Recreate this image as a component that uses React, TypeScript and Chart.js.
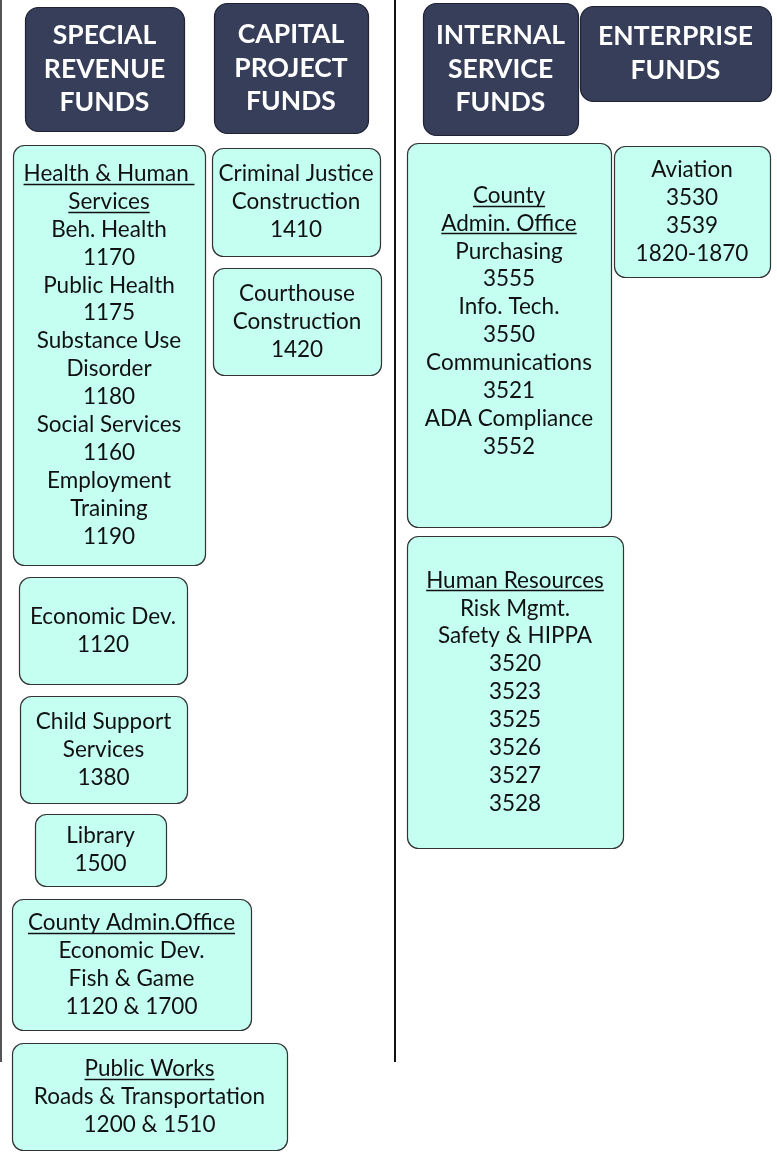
import React, { useEffect, useRef } from "react";
import { Chart, registerables } from "chart.js";

Chart.register(...registerables);

// Header boxes (fund types)
const headerLabels: string[][] = [
  ["SPECIAL", "REVENUE", "FUNDS"],
  ["CAPITAL", "PROJECT", "FUNDS"],
  ["INTERNAL", "SERVICE", "FUNDS"],
  ["ENTERPRISE", "FUNDS"],
];
const headerX0 = [25, 214, 423, 580];
const headerX1 = [184, 368, 578, 771];
const headerY0 = [7, 3, 3, 6];
const headerY1 = [131, 133, 135, 101];

// Fund boxes ("_" prefix = underlined line)
const fundLabels: string[][] = [
  ["_Health & Human ", "_Services", "Beh. Health", "1170", "Public Health", "1175", "Substance Use", "Disorder", "1180", "Social Services", "1160", "Employment", "Training", "1190"],
  ["Criminal Justice", "Construction", "1410"],
  ["Courthouse", "Construction", "1420"],
  ["_County", "_Admin. Office", "Purchasing", "3555", "Info. Tech.", "3550", "Communications", "3521", "ADA Compliance", "3552", ""],
  ["Aviation", "3530", "3539", "1820-1870"],
  ["Economic Dev.", "1120"],
  ["Child Support", "Services", "1380"],
  ["Library", "1500"],
  ["_County Admin.Office", "Economic Dev.", "Fish & Game", "1120 & 1700"],
  ["_Public Works", "Roads & Transportation", "1200 & 1510"],
  ["_Human Resources", "Risk Mgmt.", "Safety & HIPPA", "3520", "3523", "3525", "3526", "3527", "3528"],
];
const fundX0 = [13, 212, 213, 407, 614, 19, 20, 35, 12, 12, 407];
const fundX1 = [205, 380, 381, 611, 770, 187, 187, 166, 251, 287, 623];
const fundY0 = [145, 148, 268, 143, 146, 577, 696, 814, 899, 1043, 536];
const fundY1 = [565, 256, 375, 527, 277, 684, 803, 886, 1030, 1150, 848];

// Divider lines
const dividerX = [1, 395];
const dividerTop = [0, 0];
const dividerBottom = [1062, 1062];

const FONT = "Lato, 'Open Sans', sans-serif";

function roundRect(ctx: CanvasRenderingContext2D, x: number, y: number, w: number, h: number, r: number) {
  ctx.beginPath();
  ctx.moveTo(x + r, y);
  ctx.lineTo(x + w - r, y);
  ctx.arcTo(x + w, y, x + w, y + r, r);
  ctx.lineTo(x + w, y + h - r);
  ctx.arcTo(x + w, y + h, x + w - r, y + h, r);
  ctx.lineTo(x + r, y + h);
  ctx.arcTo(x, y + h, x, y + h - r, r);
  ctx.lineTo(x, y + r);
  ctx.arcTo(x, y, x + r, y, r);
  ctx.closePath();
}

const boxesPlugin = {
  id: "boxes",
  afterDatasetsDraw(chart: any) {
    const ctx: CanvasRenderingContext2D = chart.ctx;
    const xs = chart.scales.x;
    const ys = chart.scales.y;
    const drawBox = (
      lines: string[], x0: number, x1: number, y0: number, y1: number,
      fill: string, stroke: string, color: string, font: string, lh: number, r: number
    ) => {
      const px0 = xs.getPixelForValue(x0);
      const px1 = xs.getPixelForValue(x1);
      const py0 = ys.getPixelForValue(y0);
      const py1 = ys.getPixelForValue(y1);
      ctx.save();
      roundRect(ctx, px0 + 0.5, py0 + 0.5, px1 - px0, py1 - py0, r);
      ctx.fillStyle = fill;
      ctx.fill();
      ctx.lineWidth = 1.2;
      ctx.strokeStyle = stroke;
      ctx.stroke();
      ctx.fillStyle = color;
      ctx.strokeStyle = color;
      ctx.font = font;
      ctx.textAlign = "center";
      ctx.textBaseline = "middle";
      const cx = (px0 + px1) / 2;
      const cy = (py0 + py1) / 2;
      const startY = cy - ((lines.length - 1) * lh) / 2;
      lines.forEach((raw, i) => {
        const ul = raw.startsWith("_");
        const t = ul ? raw.slice(1) : raw;
        const y = startY + i * lh;
        ctx.fillText(t, cx, y);
        if (ul) {
          const w = ctx.measureText(t).width;
          ctx.lineWidth = 1.4;
          ctx.beginPath();
          ctx.moveTo(cx - w / 2, Math.round(y + 10) + 0.5);
          ctx.lineTo(cx + w / 2, Math.round(y + 10) + 0.5);
          ctx.stroke();
        }
      });
      ctx.restore();
    };
    headerLabels.forEach((l, i) =>
      drawBox(l, headerX0[i], headerX1[i], headerY0[i], headerY1[i], "#363e59", "#1e2233", "#ffffff", `bold 26.5px ${FONT}`, 33.5, 13)
    );
    fundLabels.forEach((l, i) =>
      drawBox(l, fundX0[i], fundX1[i], fundY0[i], fundY1[i], "#c4fff1", "#333333", "#111111", `22.5px ${FONT}`, 27.9, 11)
    );
  },
};

export default function App() {
  const ref = useRef<HTMLCanvasElement>(null);
  useEffect(() => {
    document.body.style.margin = "0";
    const datasets = dividerX.map((x, i) => ({
      type: "line" as const,
      data: [
        { x, y: dividerTop[i] },
        { x, y: dividerBottom[i] },
      ],
      borderColor: i === 0 ? "#555555" : "#111111",
      borderWidth: 2,
      pointRadius: 0,
      showLine: true,
    }));
    const chart = new Chart(ref.current!, {
      type: "scatter",
      data: { datasets },
      options: {
        animation: false,
        responsive: false,
        maintainAspectRatio: false,
        layout: { padding: 0 },
        plugins: { legend: { display: false }, tooltip: { enabled: false } },
        scales: {
          x: { type: "linear", min: 0, max: 777, display: false },
          y: { type: "linear", min: 0, max: 1152, reverse: true, display: false },
        },
      },
      plugins: [boxesPlugin],
    });
    return () => chart.destroy();
  }, []);
  return <canvas ref={ref} width={777} height={1152} style={{ display: "block" }} />;
}
